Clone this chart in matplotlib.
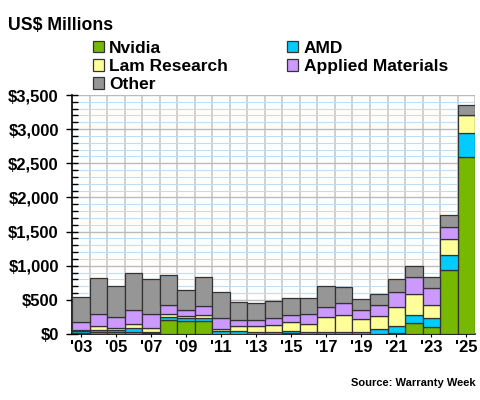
import matplotlib.pyplot as plt
import numpy as np
from matplotlib.ticker import FuncFormatter, MultipleLocator

plt.rcParams["font.family"] = ["Liberation Sans", "DejaVu Sans"]
plt.rcParams["font.weight"] = "bold"

years = list(range(2003, 2026))
nvidia = [10, 25, 25, 30, 15, 205, 195, 190, 5, 5, 3, 3, 15, 5, 3, 3, 3, 5, 15, 160, 105, 940, 2590]
amd = [30, 40, 35, 55, 20, 40, 45, 40, 35, 35, 27, 27, 25, 20, 20, 20, 20, 75, 105, 115, 125, 215, 350]
lam = [20, 50, 35, 60, 60, 45, 30, 50, 30, 70, 82, 95, 130, 120, 220, 255, 195, 185, 270, 310, 190, 230, 270]
applied = [110, 185, 150, 205, 195, 130, 80, 135, 170, 95, 90, 115, 110, 145, 155, 180, 135, 155, 225, 255, 260, 185, 0]
other = [365, 525, 455, 545, 510, 440, 300, 415, 380, 268, 250, 250, 250, 230, 300, 230, 155, 165, 185, 160, 160, 170, 150]

series = [
    ("Nvidia", nvidia, "#76B900"),
    ("AMD", amd, "#00CCFF"),
    ("Lam Research", lam, "#FFFF99"),
    ("Applied Materials", applied, "#CC99FF"),
    ("Other", other, "#969696"),
]

fig = plt.figure(figsize=(4.8, 4.0), dpi=100)
ax = fig.add_axes([0.15, 0.165, 0.84, 0.5975])

x = np.arange(len(years))
bottom = np.zeros(len(years))
handles = []
for name, vals, color in series:
    h = ax.bar(x, vals, width=1.0, bottom=bottom, color=color,
               edgecolor="#333333", linewidth=0.9, label=name, zorder=3)
    handles.append(h)
    bottom += np.array(vals)

ax.set_xlim(-0.5, len(years) - 0.5)
ax.set_ylim(0, 3500)

# gridlines
ax.yaxis.set_major_locator(MultipleLocator(500))
ax.yaxis.set_minor_locator(MultipleLocator(100))
ax.grid(which="minor", axis="y", color="#BFDDF5", linewidth=0.8, zorder=0)
ax.grid(which="major", axis="y", color="#BBBBBB", linewidth=1.0, zorder=1)
for b in np.arange(-0.5, len(years), 1.0)[1:]:
    ax.axvline(b, color="#C8C8C8", linewidth=1.2, zorder=1)

ax.yaxis.set_major_formatter(FuncFormatter(lambda v, p: f"${int(v):,}"))
ax.tick_params(axis="y", which="major", direction="inout", length=8, width=1,
               labelsize=12, pad=5.5)
ax.tick_params(axis="y", which="minor", direction="in", length=4, width=1)

tick_idx = [i for i, y in enumerate(years) if y % 2 == 1]
ax.set_xticks(tick_idx)
ax.set_xticklabels([f"'{years[i] % 100:02d}" for i in tick_idx])
ax.tick_params(axis="x", length=2, labelsize=12, pad=2)

for side in ["top", "right"]:
    ax.spines[side].set_visible(False)
ax.spines["left"].set_linewidth(1.2)
ax.spines["bottom"].set_linewidth(1.2)

fig.text(0.017, 0.935, "US$ Millions", fontsize=12.7, fontweight="bold",
         va="center", ha="left")

# legend fills by row in the reference: reorder for column-wise filling
order = [0, 2, 4, 1, 3]
fig.legend([handles[i] for i in order], [series[i][0] for i in order],
           loc="upper left", bbox_to_anchor=(0.175, 0.92), ncol=2,
           frameon=False, fontsize=12.5, handlelength=0.65, handleheight=0.65,
           handletextpad=0.3, labelspacing=0.18, columnspacing=3.4,
           borderpad=0)

fig.text(0.99, 0.043, "Source: Warranty Week", fontsize=8, fontweight="bold",
         ha="right", va="center")

fig.savefig("out.png", dpi=100)
